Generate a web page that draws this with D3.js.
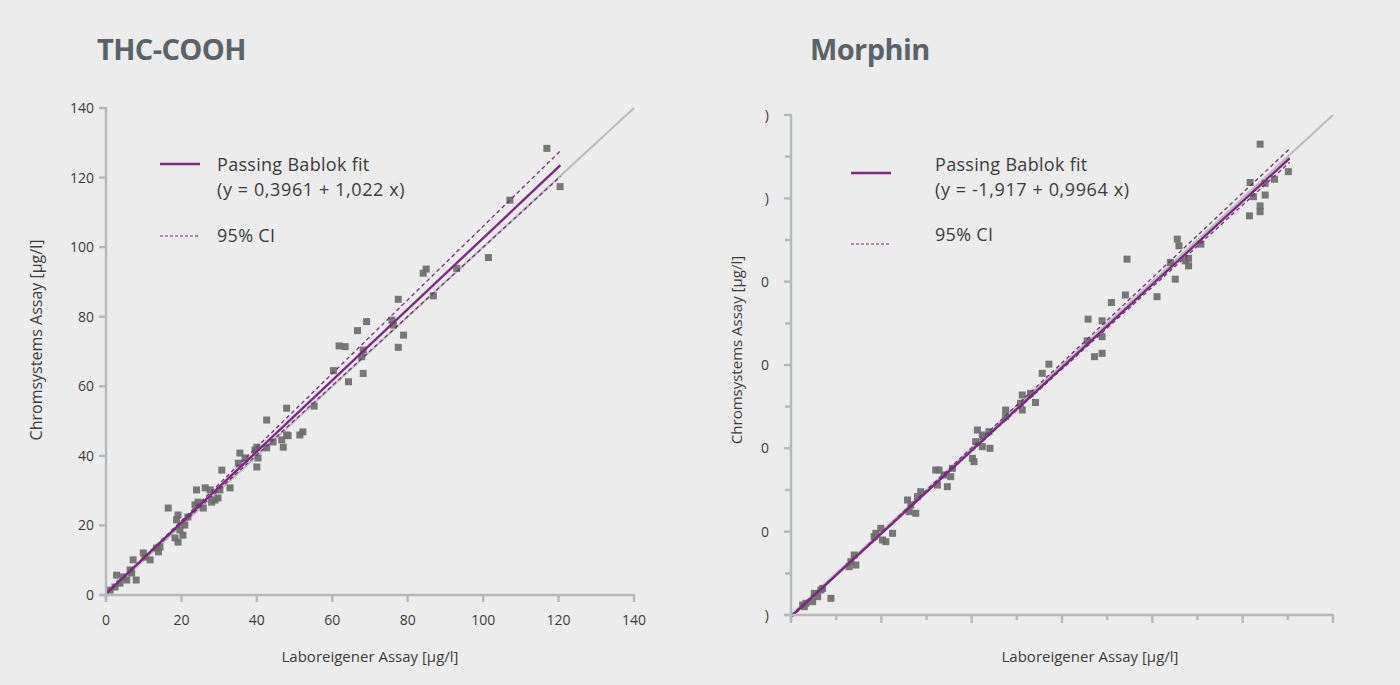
<!DOCTYPE html>
<html>
<head>
<meta charset="utf-8">
<script src="https://cdn.jsdelivr.net/npm/d3@7"></script>
<style>
  html, body { margin: 0; padding: 0; background: #ececec; }
  svg { display: block; }
  text { font-family: "Open Sans", "Lato", sans-serif; }
</style>
</head>
<body>
<svg id="chart" width="1400" height="685"></svg>
<script>
// ---------- DATA ----------
const thcX = [1.1, 2.4, 2.8, 3.7, 4.5, 5.5, 6.4, 7.2, 8.0, 6.8, 9.9, 11.7, 10.3, 13.4, 14.3, 13.9,
  16.5, 18.3, 19.1, 18.7, 19.1, 20.4, 20.9, 19.6, 21.7, 24.0, 24.4, 23.6, 25.8, 26.3, 27.6, 28.0,
  28.9, 29.7, 30.2, 30.7, 32.9, 35.5, 35.1, 36.9, 39.5, 40.0, 40.0, 40.3, 42.6, 42.6, 46.6, 47.0,
  47.9, 51.4, 52.2, 44.3, 48.3, 47.9, 55.2, 60.3, 64.3, 61.8, 63.4, 66.7, 68.2, 67.8, 68.2, 69.1,
  75.8, 76.2, 77.5, 78.9, 77.5, 84.1, 84.9, 86.8, 93.0, 101.4, 107.1, 116.9, 120.4];
const thcY = [1.4, 2.3, 5.7, 3.4, 5.2, 4.3, 7.2, 10.1, 4.3, 6.3, 12.1, 10.1, 10.9, 13.5, 13.8, 12.4,
  25.0, 16.4, 15.2, 21.6, 23.0, 17.2, 20.1, 18.7, 22.4, 30.2, 26.7, 25.9, 25.0, 30.8, 30.2, 26.7,
  27.3, 27.9, 30.2, 35.9, 30.8, 40.8, 37.9, 39.4, 41.7, 42.5, 36.8, 39.4, 42.3, 50.3, 44.6, 42.5,
  46.0, 46.0, 46.9, 44.0, 45.8, 53.7, 54.3, 64.5, 61.3, 71.6, 71.4, 76.0, 70.4, 68.5, 63.7, 78.6,
  79.0, 77.6, 85.0, 74.7, 71.2, 92.5, 93.7, 86.0, 93.9, 97.0, 113.5, 128.4, 117.4];

const morX = [12.9, 16.6, 14.7, 23.9, 25.8, 29.5, 33.1, 35.0, 44.2, 64.4, 66.3, 70.0, 71.8,
  92.0, 93.9, 99.4, 101.3, 105.0, 112.4, 129.0, 130.8, 132.6, 138.1, 140.0, 143.6,
  160.2, 162.1, 163.9, 169.4, 173.1, 176.8, 178.7, 200.8, 202.6, 204.4, 206.3, 211.8, 211.8,
  219.2, 220.3, 237.6, 237.6, 254.1, 256.0, 256.0, 265.2, 270.7, 278.1, 285.5,
  327.8, 328.9, 335.9, 344.4, 344.4, 344.4, 354.7, 370.2, 372.0, 405.2, 420.0, 425.4, 427.6,
  429.5, 440.1, 440.1, 436.5, 453.8, 507.5, 508.3, 511.9, 519.3, 519.3, 519.3, 524.9, 524.9,
  535.2, 550.6];
const morY = [12, 14, 10, 16, 26, 22, 30, 32, 20, 58, 64, 72, 60,
  94, 98, 104, 90, 88, 98, 138, 124, 132, 122, 142, 148,
  174, 156, 174, 168, 154, 166, 176, 188, 184, 208, 222, 216, 202,
  220, 200, 246, 238, 254, 264, 246, 266, 255, 290, 301,
  329, 355, 310, 314, 334, 353, 375, 384, 427, 382, 423, 403, 451,
  443, 428, 419, 425, 445, 479, 519, 502, 565, 491, 484, 518, 504,
  523, 532];

// axis ticks
const thcTicks = [0, 20, 40, 60, 80, 100, 120, 140];
const thcTickLabels = ["0", "20", "40", "60", "80", "100", "120", "140"];
const morMajorTicks = [0, 100, 200, 300, 400, 500, 600];
const morMinorTicks = [50, 150, 250, 350, 450, 550];
const morYTickLabels = [")", "0", "0", "0", "0", ")", ")"];

// fits: [intercept, slope], x-range of fit
const thcFit = [0.3961, 1.022];
const thcCIUpper = [0.2, 1.058];
const thcCILower = [0.55, 0.994];
const thcFitRange = [0, 120.5];
const morFit = [-1.917, 0.9964];
const morCIUpper = [-3, 1.019];
const morCILower = [-0.5, 0.985];
const morFitRange = [0, 552];

const titles = ["THC-COOH", "Morphin"];
const fitLabels = ["(y = 0,3961 + 1,022 x)", "(y = -1,917 + 0,9964 x)"];

// ---------- STYLE ----------
const axisColor = "#b5b9bc";
const purple = "#7a2b7e";
const idColor = "#bdbdbd";
const pointColor = "#6c6c6c";
const textColor = "#3c3c3c";
const titleColor = "#5a6367";

const svg = d3.select("#chart");

function drawPanel(cfg) {
  const g = svg.append("g");
  const x = d3.scaleLinear().domain(cfg.domain).range([cfg.x0, cfg.x1]);
  const y = d3.scaleLinear().domain(cfg.domain).range([cfg.y0, cfg.y1]);

  // title
  g.append("text").attr("x", cfg.titleX).attr("y", 60)
    .attr("font-size", 29).attr("font-weight", 700).attr("fill", titleColor)
    .attr("letter-spacing", -0.6)
    .text(cfg.title);

  // identity line
  g.append("line")
    .attr("x1", x(cfg.domain[0])).attr("y1", y(cfg.domain[0]))
    .attr("x2", x(cfg.domain[1])).attr("y2", y(cfg.domain[1]))
    .attr("stroke", idColor).attr("stroke-width", 2.2);

  // points
  const s = 7;
  g.append("g").selectAll("rect").data(cfg.xs.map((d, i) => [d, cfg.ys[i]])).join("rect")
    .attr("x", d => x(d[0]) - s / 2).attr("y", d => y(d[1]) - s / 2)
    .attr("width", s).attr("height", s)
    .attr("fill", pointColor).attr("opacity", 0.92);

  // fit lines
  const lineOf = (p) => cfg.fitRange.map(v => [x(v), y(p[0] + p[1] * v)]);
  const line = d3.line();
  g.append("path").attr("d", line(lineOf(cfg.ciU))).attr("fill", "none")
    .attr("stroke", purple).attr("stroke-width", 1.3).attr("stroke-dasharray", "4,3");
  g.append("path").attr("d", line(lineOf(cfg.ciL))).attr("fill", "none")
    .attr("stroke", purple).attr("stroke-width", 1.3).attr("stroke-dasharray", "4,3");
  g.append("path").attr("d", line(lineOf(cfg.fit))).attr("fill", "none")
    .attr("stroke", purple).attr("stroke-width", 2.4);

  // axes
  const axG = g.append("g").attr("stroke", axisColor).attr("stroke-width", 2.4);
  axG.append("line").attr("x1", x(cfg.domain[0]) - 6).attr("x2", x(cfg.domain[1]) + 1)
    .attr("y1", y(cfg.domain[0])).attr("y2", y(cfg.domain[0]));
  axG.append("line").attr("x1", x(cfg.domain[0])).attr("x2", x(cfg.domain[0]))
    .attr("y1", y(cfg.domain[0]) + 6).attr("y2", y(cfg.domain[1]) - 1);

  cfg.drawTicks(g, x, y, axG);

  // axis titles
  g.append("text").attr("x", cfg.xLabelX).attr("y", cfg.xLabelY)
    .attr("text-anchor", "middle").attr("font-size", 15).attr("fill", textColor)
    .text("Laboreigener Assay [µg/l]");
  g.append("text").attr("transform", `translate(${cfg.yLabelX},${cfg.yLabelY}) rotate(-90)`)
    .attr("text-anchor", "middle").attr("font-size", cfg.yLabelSize).attr("fill", textColor)
    .text("Chromsystems Assay [µg/l]");

  // legend
  const lx = cfg.legX, lt = cfg.legTextX;
  g.append("line").attr("x1", lx).attr("x2", lx + 40).attr("y1", cfg.legY1).attr("y2", cfg.legY1)
    .attr("stroke", purple).attr("stroke-width", 2.6);
  g.append("text").attr("x", lt).attr("y", 171)
    .attr("font-size", 18).attr("letter-spacing", 0.3).attr("fill", textColor).text("Passing Bablok fit");
  g.append("text").attr("x", lt).attr("y", 196)
    .attr("font-size", 18).attr("letter-spacing", 0.6).attr("fill", textColor).text(cfg.fitLabel);
  g.append("line").attr("x1", lx).attr("x2", lx + 40).attr("y1", cfg.legY2).attr("y2", cfg.legY2)
    .attr("stroke", purple).attr("stroke-width", 1.2).attr("stroke-dasharray", "3,2");
  g.append("text").attr("x", lt).attr("y", cfg.legTextY2)
    .attr("font-size", 18).attr("letter-spacing", 0.3).attr("fill", textColor).text("95% CI");
}

// Left panel
drawPanel({
  domain: [0, 140], x0: 106, x1: 634, y0: 595, y1: 108,
  title: titles[0], titleX: 97,
  xs: thcX, ys: thcY,
  fit: thcFit, ciU: thcCIUpper, ciL: thcCILower, fitRange: thcFitRange,
  xLabelX: 370, xLabelY: 662, yLabelX: 42, yLabelY: 340, yLabelSize: 16,
  legX: 160, legTextX: 217, legY1: 164, legY2: 236, legTextY2: 242,
  fitLabel: fitLabels[0],
  drawTicks: (g, x, y, axG) => {
    thcTicks.forEach((t, i) => {
      axG.append("line").attr("x1", x(t)).attr("x2", x(t)).attr("y1", y(0)).attr("y2", y(0) + 7);
      axG.append("line").attr("y1", y(t)).attr("y2", y(t)).attr("x1", x(0)).attr("x2", x(0) - 7);
      g.append("text").attr("x", x(t)).attr("y", y(0) + 30).attr("text-anchor", "middle")
        .attr("font-size", 14).attr("fill", textColor).text(thcTickLabels[i]);
      g.append("text").attr("x", x(0) - 12).attr("y", y(t) + 5).attr("text-anchor", "end")
        .attr("font-size", 14).attr("fill", textColor).text(thcTickLabels[i]);
    });
  }
});

// Right panel
drawPanel({
  domain: [0, 600], x0: 791, x1: 1333, y0: 615, y1: 115,
  title: titles[1], titleX: 810,
  xs: morX, ys: morY,
  fit: morFit, ciU: morCIUpper, ciL: morCILower, fitRange: morFitRange,
  xLabelX: 1090, xLabelY: 662, yLabelX: 742, yLabelY: 350, yLabelSize: 15,
  legX: 851, legTextX: 935, legY1: 173, legY2: 244, legTextY2: 241,
  fitLabel: fitLabels[1],
  drawTicks: (g, x, y, axG) => {
    morMajorTicks.forEach((t, i) => {
      axG.append("line").attr("x1", x(t)).attr("x2", x(t)).attr("y1", y(0)).attr("y2", y(0) + 8);
      axG.append("line").attr("y1", y(t)).attr("y2", y(t)).attr("x1", x(0)).attr("x2", x(0) - 7);
      g.append("text").attr("x", x(0) - 22).attr("y", y(t) + 5).attr("text-anchor", "end")
        .attr("font-size", 14).attr("fill", textColor).text(morYTickLabels[i]);
    });
    morMinorTicks.forEach(t => {
      axG.append("line").attr("x1", x(t)).attr("x2", x(t)).attr("y1", y(0)).attr("y2", y(0) + 5);
      axG.append("line").attr("y1", y(t)).attr("y2", y(t)).attr("x1", x(0)).attr("x2", x(0) - 6);
    });
  }
});
</script>
</body>
</html>
